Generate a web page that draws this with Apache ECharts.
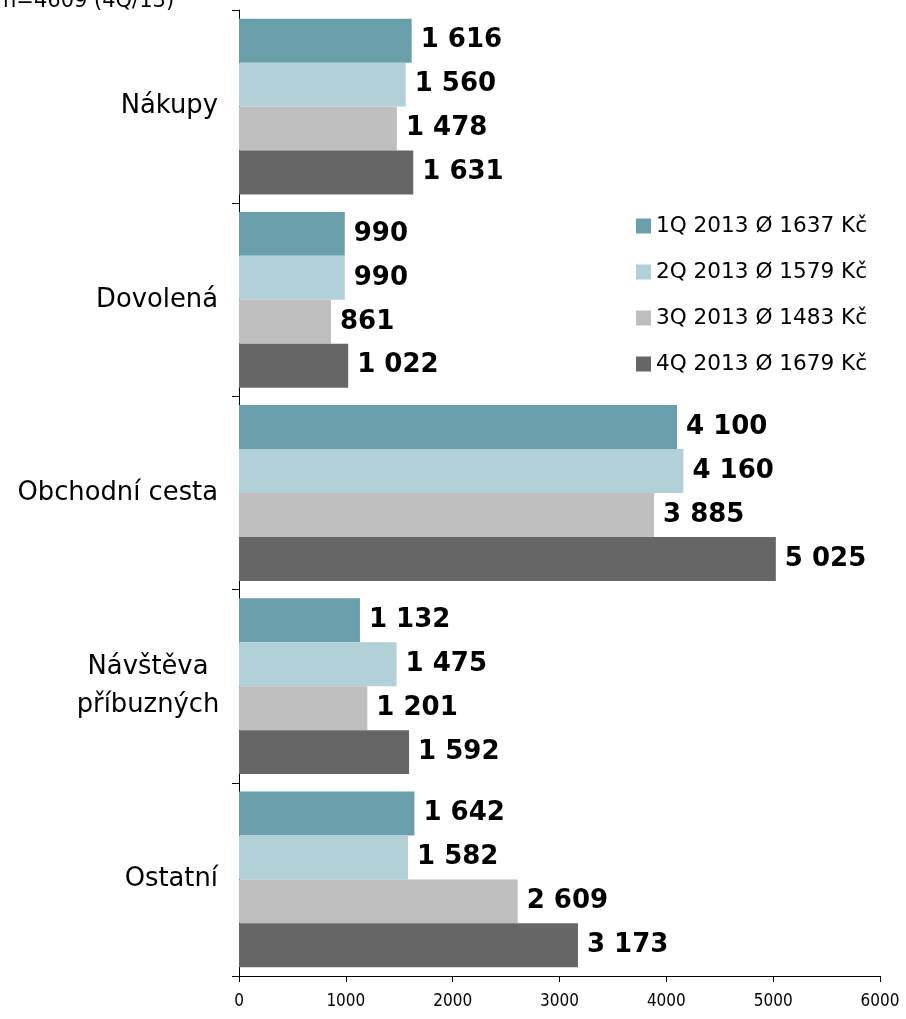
<!DOCTYPE html>
<html>
<head>
<meta charset="utf-8">
<script src="https://cdn.jsdelivr.net/npm/echarts@6/dist/echarts.min.js"></script>
<style>
  html, body { margin: 0; padding: 0; background: #fff; }
  #chart { width: 906px; height: 1019px; }
</style>
</head>
<body>
<div id="chart"></div>
<script>
// Average trip spend by purpose, per quarter of 2013 (Kč)
const categories = ['Nákupy', 'Dovolená', 'Obchodní cesta', 'Návštěva\npříbuzných', 'Ostatní'];
const seriesNames = ['1Q 2013 Ø 1637 Kč', '2Q 2013 Ø 1579 Kč', '3Q 2013 Ø 1483 Kč', '4Q 2013 Ø 1679 Kč'];
const q1 = [1616, 990, 4100, 1132, 1642];
const q2 = [1560, 990, 4160, 1475, 1582];
const q3 = [1478, 861, 3885, 1201, 2609];
const q4 = [1631, 1022, 5025, 1592, 3173];
const colors = ['#699faa', '#b1d0d7', '#bfbfbf', '#666666'];
const noteText = 'n=4609 (4Q/13)';

const FONT = 'Verdana, "DejaVu Sans", sans-serif';
const FONT_AXIS = '"DejaVu Sans Condensed", Tahoma, sans-serif';
const fmt = v => String(v).replace(/\B(?=(\d{3})+(?!\d))/g, ' ');

const chart = echarts.init(document.getElementById('chart'));
const values = [q1, q2, q3, q4];

chart.setOption({
  animation: false,
  textStyle: { fontFamily: FONT },
  color: colors,
  grid: { left: 239, right: 26, top: 10, bottom: 43, containLabel: false },
  graphic: [{
    type: 'text', left: 3, top: -9,
    style: { text: noteText, font: '21px ' + FONT, fill: '#000' }
  }],
  legend: {
    orient: 'vertical',
    left: 631, top: 210,
    itemWidth: 15, itemHeight: 15, itemGap: 24,
    icon: 'rect',
    textStyle: { fontSize: 21.6, color: '#000', fontFamily: FONT, padding: [0, 0, 0, 0] },
    data: seriesNames
  },
  xAxis: {
    type: 'value', min: 0, max: 6000, interval: 1000,
    axisLine: { show: true, lineStyle: { color: '#000', width: 1 } },
    axisTick: { show: true, length: 6, lineStyle: { color: '#000' } },
    axisLabel: { fontSize: 17, color: '#000', margin: 17, fontFamily: FONT_AXIS, formatter: v => String(v) },
    splitLine: { show: false }
  },
  yAxis: {
    type: 'category', inverse: true, data: categories,
    axisLine: { show: true, lineStyle: { color: '#000', width: 1 } },
    axisTick: { show: true, length: 7, lineStyle: { color: '#000' } },
    axisLabel: {
      fontSize: 25.8, color: '#000', margin: 21, fontFamily: FONT, lineHeight: 38, align: 'right',
      // two-line names are centred within their own block
      formatter: v => v.includes('\n') ? v.split('\n').map(s => '{c|' + s + '}').join('\n') : v,
      rich: { c: { width: 140, align: 'center', fontSize: 25.8, lineHeight: 38, color: '#000', fontFamily: FONT } }
    }
  },
  series: seriesNames.map((name, i) => ({
    name, type: 'bar', data: values[i],
    barGap: '0%', barCategoryGap: '9%',
    itemStyle: { color: colors[i] },
    label: {
      show: true, position: 'right', distance: 9,
      fontSize: 26, fontWeight: 'bold', color: '#000', fontFamily: FONT,
      formatter: p => fmt(p.value)
    }
  }))
});
</script>
</body>
</html>
